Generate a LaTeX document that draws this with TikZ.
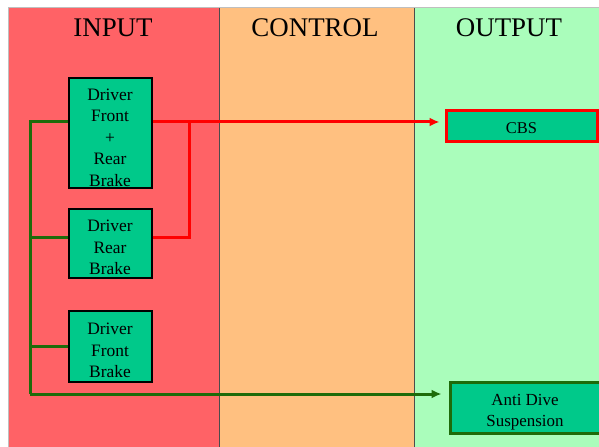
\documentclass[tikz,border=0pt]{standalone}
\usepackage{fontspec}
\setmainfont{Liberation Serif}
\usetikzlibrary{arrows.meta,calc}
\definecolor{colred}{HTML}{FF6266}
\definecolor{colorange}{HTML}{FFC080}
\definecolor{colgreen}{HTML}{AAFDBB}
\definecolor{boxfill}{HTML}{00C98A}
\definecolor{dgreen}{HTML}{1E6B0A}
\definecolor{lred}{HTML}{FF0000}
\tikzset{
  colframe/.style={draw=black!70, line width=0.6bp},
  title/.style={font=\fontsize{27}{30}\selectfont, anchor=center},
  inbox/.style={draw=black, line width=2bp, fill=boxfill, minimum width=83bp, inner sep=0pt},
  intext/.style={align=center, inner sep=0pt, font=\fontsize{17.5}{21.5}\selectfont},
  outbox/.style={fill=boxfill, line width=3bp, inner sep=0pt},
  outtext/.style={align=center, inner sep=0pt, font=\fontsize{17}{21}\selectfont},
  gline/.style={draw=dgreen, line width=3bp},
  rline/.style={draw=lred, line width=3bp},
  tip/.style={-{Latex[length=10bp,width=9bp]}}
}
\begin{document}
\begin{tikzpicture}[x=1bp,y=-1bp]
\useasboundingbox (0,0) rectangle (599,447);
\fill[white] (0,0) rectangle (599,447);
\fill[colred] (8,7) rectangle (219,447);
\fill[colorange] (219,7) rectangle (414,447);
\fill[colgreen] (414,7) rectangle (599,447);
\draw[colframe] (219,7) -- (219,447);
\draw[colframe] (414,7) -- (414,447);
\draw[draw=black!25, line width=0.5bp] (8,447) -- (8,7) -- (599,7);
\node[title] (tin) at (113,28) {INPUT};
\node[title] (tctl) at (315,28) {CONTROL};
\node[title] (tout) at (509,28) {OUTPUT};

\node[inbox, minimum height=110bp] (b1) at (110,133) {};
\node[intext] (b1t) at ($(b1.center)+(0,4.5)$) {Driver\\Front\\+\\Rear\\Brake};
\node[inbox, minimum height=69bp] (b2) at (110,243.5) {};
\node[intext] (b2t) at ($(b2.center)+(0,4)$) {Driver\\Rear\\Brake};
\node[inbox, minimum height=71bp] (b3) at (110,346.5) {};
\node[intext] (b3t) at ($(b3.center)+(0,4)$) {Driver\\Front\\Brake};

\node[outbox, draw=lred, minimum width=151bp, minimum height=31bp] (cbs) at (521.5,126.5) {};
\node[outtext, font=\fontsize{16.5}{20}\selectfont] (cbst) at ($(cbs.center)+(0,1.5)$) {CBS};
\node[outbox, draw=dgreen, minimum width=150bp, minimum height=51bp] (ad) at (525,407.5) {};
\node[outtext] (adt) at ($(ad.center)+(0,5)$) {Anti Dive\\Suspension};

\coordinate (g1) at (30,122);
\coordinate (g4) at (30,394);
\coordinate (r2) at (189,238);

% green bus
\draw[gline] (b1.west |- g1) -- (g1) -- (g4);
\draw[gline] (b2.west |- 0,238) -- (30,238);
\draw[gline] (b3.west) -- (30,346.5);
\draw[gline, tip, shorten >=7bp] (g4) -- (ad.west |- g4);

% red
\draw[rline, tip, shorten >=5bp] (b1.east |- g1) -- (cbs.west |- g1);
\draw[rline] (b2.east |- r2) -- (r2) -- (r2 |- g1);
\end{tikzpicture}
\end{document}
